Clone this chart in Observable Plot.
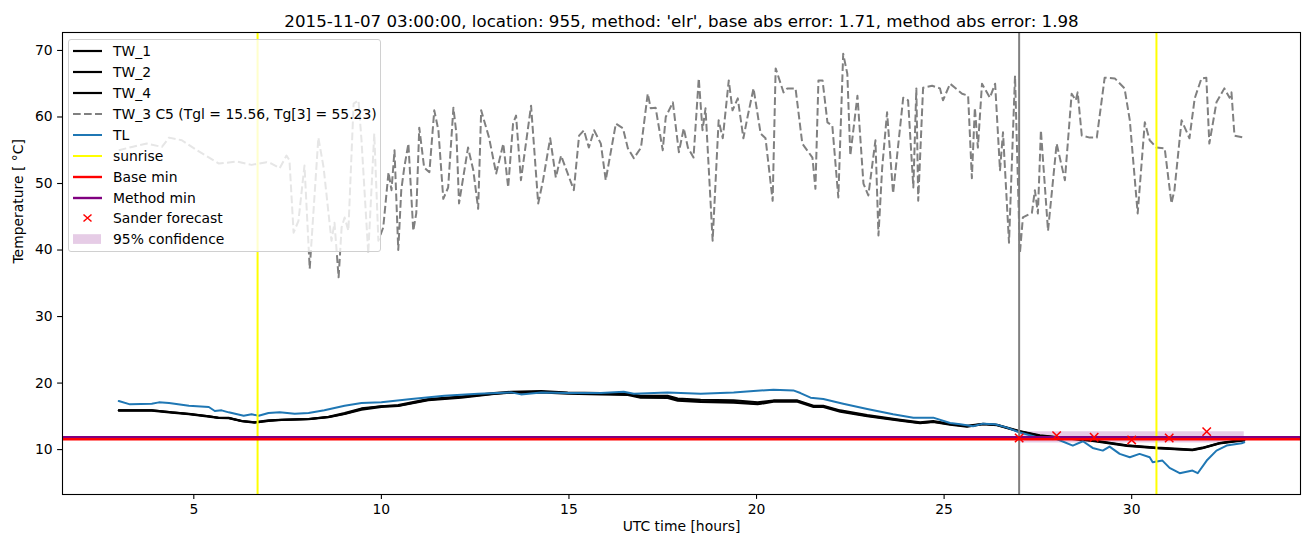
<!DOCTYPE html>
<html><head><meta charset="utf-8">
<script src="https://cdn.jsdelivr.net/npm/d3@7"></script>
<script src="https://cdn.jsdelivr.net/npm/@observablehq/plot@0.6"></script>
<style>
body{margin:0;background:#fff;font-family:"DejaVu Sans",sans-serif;}
#wrap{position:relative;width:1310px;height:547px;overflow:hidden;}
#legend{position:absolute;left:68px;top:39px;width:313px;height:213px;background:rgba(255,255,255,0.8);border:1px solid #d0d0d0;border-radius:3px;box-sizing:border-box;}
.row{position:absolute;left:0;height:20px;display:flex;align-items:center;font-size:13.9px;color:#000;white-space:nowrap;}
.row svg{margin-left:4px;margin-right:10px;}
</style></head>
<body><div id="wrap"><div id="chart"></div><div id="legend"></div></div>
<script>
// ---- data ----
const titleText = "2015-11-07 03:00:00, location: 955, method: 'elr', base abs error: 1.71, method abs error: 1.98";
const xLabel = "UTC time [hours]";
const yLabel = "Temperature [ \u00B0C]";
const xTicks = [5, 10, 15, 20, 25, 30];
const yTicks = [10, 20, 30, 40, 50, 60, 70];

const twX = [3.0,3.88,4.41,4.87,5.40,5.66,5.93,6.28,6.62,6.99,7.34,8.06,8.59,9.02,9.47,10.0,10.45,11.25,12.13,13.0,13.46,14.26,14.97,15.85,16.57,16.91,17.63,17.90,18.51,19.39,20.03,20.45,21.09,21.52,21.78,22.23,22.95,23.83,24.36,24.71,25.16,25.61,26.04,26.41,27.0,27.55,28.0,28.96,29.87,30.66,31.62,31.89,32.34,32.87,33.0];
const tw1 = [15.9,15.9,15.6,15.4,15.0,14.8,14.8,14.3,14.1,14.4,14.5,14.6,14.9,15.4,16.1,16.5,16.6,17.5,17.9,18.4,18.6,18.7,18.5,18.4,18.3,17.9,17.9,17.5,17.3,17.2,16.9,17.3,17.3,16.5,16.5,15.8,15.1,14.4,14.0,14.2,13.8,13.5,13.85,13.7,12.75,12.1,11.85,11.35,10.6,10.25,9.95,10.25,10.95,11.35,11.4];
const tw2 = [15.9,15.9,15.6,15.35,15.0,14.8,14.75,14.3,14.1,14.35,14.5,14.6,14.95,15.5,16.2,16.5,16.7,17.6,18.0,18.5,18.7,18.8,18.6,18.5,18.4,18.1,18.1,17.7,17.5,17.4,17.1,17.4,17.4,16.6,16.6,15.9,15.2,14.5,14.1,14.3,13.9,13.6,13.9,13.75,12.8,12.15,11.9,11.4,10.65,10.3,10.0,10.3,11.0,11.4,11.45];
const tw4 = [15.85,15.85,15.55,15.3,14.95,14.75,14.7,14.25,14.05,14.3,14.45,14.55,14.85,15.35,16.0,16.4,16.55,17.4,17.8,18.35,18.55,18.6,18.4,18.3,18.2,17.8,17.75,17.35,17.15,17.05,16.8,17.2,17.2,16.4,16.4,15.7,15.0,14.35,13.95,14.15,13.75,13.45,13.8,13.65,12.7,12.05,11.8,11.3,10.55,10.2,9.9,10.2,10.9,11.3,11.35];

const tlX = [3.0,3.30,3.88,4.07,4.34,4.87,5.40,5.56,5.74,5.93,6.33,6.54,6.73,6.99,7.29,7.69,8.06,8.48,9.02,9.47,10.0,10.80,11.68,12.58,13.46,13.72,14.26,14.97,15.85,16.46,16.73,17.63,18.51,19.39,19.92,20.45,20.98,21.17,21.44,21.78,22.31,22.95,23.64,24.18,24.71,25.16,25.43,25.77,26.04,26.36,26.68,27.0,27.55,28.0,28.43,28.70,28.96,29.23,29.41,29.68,29.95,30.21,30.48,30.56,30.82,31.01,31.28,31.62,31.76,32.0,32.26,32.53,32.93,33.0];
const tl = [17.3,16.8,16.9,17.1,17.0,16.6,16.4,15.8,15.9,15.6,15.1,15.3,15.1,15.5,15.6,15.4,15.5,15.9,16.6,17.0,17.1,17.6,18.1,18.4,18.6,18.3,18.6,18.5,18.5,18.7,18.4,18.6,18.4,18.6,18.8,19.0,18.9,18.5,17.8,17.6,16.9,16.1,15.3,14.8,14.8,14.0,13.8,13.5,13.9,13.8,13.3,12.6,11.75,11.6,10.6,11.25,10.25,9.85,10.45,9.35,8.85,9.35,8.85,8.1,8.35,7.25,6.45,6.85,6.45,8.35,9.85,10.6,10.95,11.1];

// TW_3 C5 [hour, temperature]
const tw3 = [[3.00,55.0],[3.35,55.5],[3.75,56.0],[4.15,55.5],[4.34,56.9],[4.68,56.5],[5.08,55.0],[5.67,53.0],[6.14,53.3],[6.54,52.8],[6.94,53.2],[7.07,53.0],[7.29,52.3],[7.47,54.2],[7.55,53.5],[7.66,42.6],[7.79,44.4],[7.95,52.7],[8.09,37.2],[8.32,56.9],[8.46,52.4],[8.67,41.4],[8.75,44.1],[8.86,35.9],[8.94,43.4],[9.02,44.9],[9.12,42.9],[9.26,62.0],[9.39,62.5],[9.47,56.5],[9.65,39.5],[9.81,57.5],[9.92,41.4],[10.05,43.4],[10.19,51.7],[10.27,49.0],[10.35,55.0],[10.45,40.0],[10.53,49.0],[10.61,52.4],[10.72,56.0],[10.85,42.9],[10.93,45.5],[11.01,58.4],[11.14,52.4],[11.28,51.7],[11.41,61.0],[11.52,58.0],[11.65,47.7],[11.78,49.4],[11.92,61.4],[12.00,57.5],[12.07,47.0],[12.31,55.4],[12.45,52.0],[12.58,46.2],[12.66,61.0],[12.87,56.9],[13.06,51.5],[13.25,56.0],[13.38,49.4],[13.51,59.0],[13.59,60.2],[13.72,50.5],[13.99,61.7],[14.18,47.0],[14.31,50.5],[14.50,56.8],[14.65,50.9],[14.79,54.2],[15.13,49.0],[15.27,57.2],[15.40,58.0],[15.53,55.4],[15.67,58.0],[15.85,56.0],[15.98,50.5],[16.25,59.0],[16.44,58.3],[16.57,55.3],[16.73,53.8],[16.92,55.4],[17.10,63.5],[17.18,61.3],[17.31,61.4],[17.50,55.0],[17.58,60.0],[17.77,62.2],[17.93,54.7],[18.06,58.3],[18.17,55.4],[18.32,53.9],[18.46,65.8],[18.56,58.0],[18.64,61.3],[18.83,41.4],[18.99,59.5],[19.10,56.8],[19.26,65.5],[19.36,61.0],[19.50,62.8],[19.65,56.8],[19.76,60.0],[19.92,64.3],[20.11,57.5],[20.24,56.8],[20.43,47.4],[20.51,67.3],[20.72,63.7],[20.82,64.3],[21.04,64.3],[21.22,56.0],[21.49,53.9],[21.57,49.2],[21.65,65.5],[21.76,65.5],[21.89,59.2],[22.02,58.7],[22.18,47.9],[22.31,69.5],[22.42,66.5],[22.50,54.2],[22.69,63.2],[22.85,50.0],[22.98,48.2],[23.17,56.5],[23.25,42.2],[23.35,52.4],[23.48,60.7],[23.64,48.5],[23.91,62.9],[24.04,62.5],[24.18,49.4],[24.26,64.3],[24.31,47.4],[24.44,64.4],[24.68,64.7],[24.89,64.3],[24.97,62.5],[25.16,65.0],[25.48,63.5],[25.64,63.2],[25.74,50.8],[25.82,61.4],[25.90,55.4],[26.01,65.0],[26.22,62.9],[26.36,65.0],[26.49,52.0],[26.57,57.7],[26.73,41.1],[26.89,66.2],[27.02,39.5],[27.10,44.9],[27.34,45.6],[27.42,49.0],[27.50,45.5],[27.58,58.0],[27.77,42.9],[28.00,56.0],[28.22,50.5],[28.40,63.5],[28.51,62.5],[28.56,63.7],[28.67,57.2],[28.88,56.9],[29.07,56.9],[29.28,65.9],[29.55,65.8],[29.81,64.3],[29.95,59.5],[30.16,45.5],[30.35,59.2],[30.48,56.5],[30.66,55.4],[30.88,55.3],[31.06,47.0],[31.14,49.0],[31.33,59.5],[31.54,56.8],[31.68,62.8],[31.86,65.8],[31.99,65.9],[32.07,56.0],[32.26,62.2],[32.47,64.3],[32.61,62.9],[32.66,63.7],[32.74,57.2],[33.00,56.9]];

const sunrise = [6.70, 30.66];
const forecastStart = [27.0];
const baseMin = 11.55;
const methodMin = 11.85;
const sanderX = [27, 28, 29, 30, 31, 32];
const sanderY = [11.75, 12.1, 11.85, 11.45, 11.75, 12.7];
const confX = [27, 33];
const confLow = [11.0, 11.0];
const confHigh = [12.7, 12.7];

const legendLabels = ["TW_1","TW_2","TW_4","TW_3 C5 (Tgl = 15.56, Tg[3] = 55.23)","TL","sunrise","Base min","Method min","Sander forecast","95% confidence"];

// ---- build tables ----
const tw1Data = twX.map((x,i)=>({x, y: tw1[i]}));
const tw2Data = twX.map((x,i)=>({x, y: tw2[i]}));
const tw4Data = twX.map((x,i)=>({x, y: tw4[i]}));
const tlData = tlX.map((x,i)=>({x, y: tl[i]}));
const tw3Data = tw3.map(([x,y])=>({x,y}));
const sanderData = sanderX.map((x,i)=>({x, y: sanderY[i]}));
const confData = confX.map((x,i)=>({x, lo: confLow[i], hi: confHigh[i]}));

const chart = Plot.plot({
  width: 1310, height: 547,
  marginLeft: 62, marginRight: 10, marginTop: 32, marginBottom: 53,
  x: {domain: [1.5, 34.5]},
  y: {domain: [3.25, 72.7]},
  style: {fontFamily: "DejaVu Sans", fontSize: "13.9px", background: "white", color: "black", overflow: "visible"},
  marks: [
    Plot.areaY(confData, {x: "x", y1: "lo", y2: "hi", fill: "purple", fillOpacity: 0.2}),
    Plot.line(tw1Data, {x: "x", y: "y", stroke: "black", strokeWidth: 2}),
    Plot.line(tw2Data, {x: "x", y: "y", stroke: "black", strokeWidth: 2}),
    Plot.line(tw4Data, {x: "x", y: "y", stroke: "black", strokeWidth: 2}),
    Plot.line(tw3Data, {x: "x", y: "y", stroke: "gray", strokeWidth: 2, strokeDasharray: "7.7,3.3", strokeLinecap: "butt"}),
    Plot.line(tlData, {x: "x", y: "y", stroke: "#1f77b4", strokeWidth: 2}),
    Plot.ruleX(sunrise, {stroke: "yellow", strokeWidth: 2}),
    Plot.ruleX(forecastStart, {stroke: "gray", strokeWidth: 2}),
    Plot.ruleY([methodMin], {stroke: "purple", strokeWidth: 2.67}),
    Plot.ruleY([baseMin], {stroke: "red", strokeWidth: 2.67}),
    Plot.dot(sanderData, {x: "x", y: "y", symbol: "times", r: 3.9, stroke: "red", strokeWidth: 1.5}),
    Plot.frame({stroke: "black", strokeWidth: 1.1}),
    Plot.axisX({ticks: xTicks, tickSize: 4.9, tickPadding: 4.9, label: null, strokeWidth: 1.1}),
    Plot.axisY({ticks: yTicks, tickSize: 4.9, tickPadding: 4.9, label: null, strokeWidth: 1.1}),
    Plot.text([titleText], {frameAnchor: "top", dy: -17, fontSize: 16.67}),
    Plot.text([xLabel], {frameAnchor: "bottom", dy: 36}),
    Plot.text([yLabel], {frameAnchor: "left", dx: -44, rotate: -90})
  ]
});
document.getElementById("chart").appendChild(chart);

// ---- legend ----
const legendKinds = [
  {kind: "line", color: "black", w: 2.2},
  {kind: "line", color: "black", w: 2.2},
  {kind: "line", color: "black", w: 2.2},
  {kind: "dash", color: "gray", w: 2},
  {kind: "line", color: "#1f77b4", w: 2},
  {kind: "line", color: "yellow", w: 2},
  {kind: "line", color: "red", w: 2.4},
  {kind: "line", color: "purple", w: 2.4},
  {kind: "marker", color: "red", w: 1.5},
  {kind: "patch", color: "rgba(128,0,128,0.2)", w: 0}
];
const leg = document.getElementById("legend");
legendLabels.forEach((lab, i) => {
  const s = legendKinds[i];
  let sw = "";
  if (s.kind === "line") sw = `<line x1="0" x2="29" y1="10" y2="10" stroke="${s.color}" stroke-width="${s.w}"/>`;
  else if (s.kind === "dash") sw = `<line x1="0" x2="29" y1="10" y2="10" stroke="${s.color}" stroke-width="${s.w}" stroke-dasharray="7.7,3.3"/>`;
  else if (s.kind === "marker") sw = `<path d="M10.5,6.5L18.5,13.5M10.5,13.5L18.5,6.5" stroke="${s.color}" stroke-width="${s.w}"/>`;
  else sw = `<rect x="0" y="5.2" width="28" height="9.7" fill="${s.color}"/>`;
  const row = document.createElement("div");
  row.className = "row";
  row.style.top = (1.2 + i * 20.9) + "px";
  row.innerHTML = `<svg width="30" height="20">${sw}</svg><span>${lab}</span>`;
  leg.appendChild(row);
});
</script>
</body></html>
